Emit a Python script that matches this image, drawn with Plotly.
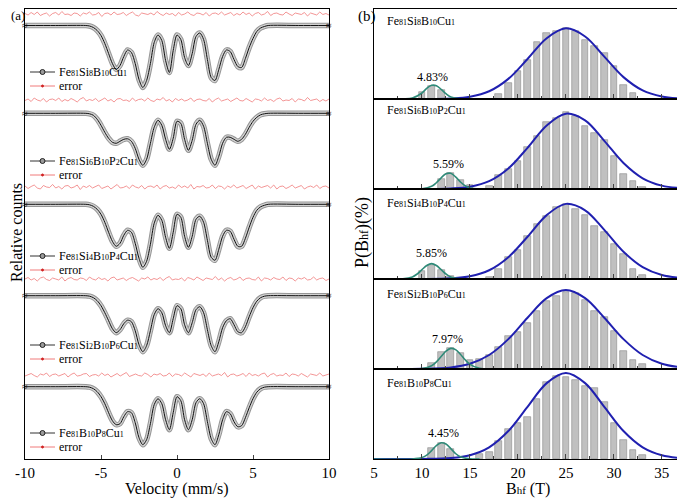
import re
import numpy as np
import plotly.graph_objects as go

# page body adds an 8px margin, so the figure is drawn 8px in from the window corner
OFF = 8
W, H = 685 - OFF, 499 - OFF
SERIF = "Liberation Serif"

# ---------------- (a) Mossbauer spectra ----------------
alloys = ["Fe81Si8B10Cu1", "Fe81Si6B10P2Cu1", "Fe81Si4B10P4Cu1", "Fe81Si2B10P6Cu1", "Fe81B10P8Cu1"]

velocity = [-10, -8, -6, -5.75, -5.5, -5.25, -5, -4.75, -4.5, -4.25, -4, -3.75, -3.5, -3.25,
            -3, -2.75, -2.5, -2.25, -2, -1.75, -1.5, -1.25, -1, -0.75, -0.5, -0.25, 0,
            0.25, 0.5, 0.75, 1, 1.25, 1.5, 1.75, 2, 2.25, 2.5, 2.75, 3, 3.25, 3.5, 3.75,
            4, 4.25, 4.5, 4.75, 5, 5.25, 5.5, 5.75, 6, 8, 10]

# absorption (drop of relative counts, arb. units)
absorb_1 = [0, 0, 0, 0.5, 2, 5, 10, 18, 28, 38, 44, 40, 31, 24.5, 27, 38, 54, 62, 55, 38, 17, 9.5,
            15, 35, 47, 25, 9.5, 14, 32, 40, 28, 11, 7.5, 14, 34, 52, 55, 44, 31, 24.5, 26, 34,
            41, 42, 33, 22, 13, 6, 2.5, 1, 0, 0, 0]
absorb_2 = [0, 0, 0, 0.5, 2, 6, 12, 19, 25, 29, 30, 28, 26, 25.5, 28, 35, 46, 52, 46, 30, 14, 7,
            12, 26, 36, 25, 8, 10, 26, 37, 27, 11, 7, 13, 30, 46, 52, 43, 30, 24, 24, 26,
            28, 26, 21, 14, 8, 4, 1.5, 0.5, 0, 0, 0]
absorb_3 = [0, 0, 0, 0.5, 2, 5, 10, 18, 28, 37, 42, 39, 31, 26, 28, 39, 54, 63, 57, 40, 19, 11,
            16, 33, 44, 28, 10, 13, 32, 43, 32, 15, 12, 18, 36, 53, 56, 45, 32, 26, 27, 35,
            42, 42, 34, 23, 13, 6, 2.5, 1, 0, 0, 0]
absorb_4 = [0, 0, 0, 0.5, 2, 5, 10, 17, 25, 33, 37, 34, 28, 24.5, 26, 35, 49, 56, 50, 35, 19, 13,
            17, 30, 37, 23, 10, 13, 29, 37, 27, 14, 11, 17, 34, 50, 56, 46, 32, 25, 23, 29,
            36, 37, 31, 21, 12, 5.5, 2, 0.5, 0, 0, 0]
absorb_5 = [0, 0, 0, 0.5, 2, 5, 10, 17, 26, 34, 38, 37, 30, 25, 26, 36, 51, 58, 53, 37, 18, 12,
            17, 33, 43, 26, 10, 14, 33, 43, 33, 16, 12, 17, 35, 52, 58, 48, 33, 25, 27, 35,
            40, 39, 31, 21, 12, 5.5, 2, 0.5, 0, 0, 0]
spectra = [absorb_1, absorb_2, absorb_3, absorb_4, absorb_5]

# fit residuals (error traces)
err_1 = [0.5, -1, 1.5, -0.5, 2, -1.5, 0, 1, -2, 0.5, 1.5, -1, 2.5, -0.5, 0, -1.5, 1, 0.5, -2, 1,
         0, 2, -1, -0.5, 1.5, -2.5, 0.5, 1, -1, 2, -0.5, 0, 1.5, -1.5, 0.5, 2, -1, -2, 1, 0.5,
         -0.5, 1, -1, 2.5, 0, -1.5, 1, -0.5, 0.5, -2, 1.5, -1, 0, 2, -0.5, -1.5, 1, 0.5, -1, 1.5,
         -2, 0.5, 1, -0.5, 2, -1, 0, 1.5, -1.5, 0.5, -1, 2, -0.5, 1, -2, 0.5, 1.5, -1, 0, 2.5,
         -1.5, 0.5, 1, -0.5, -1, 2, 0, -1.5, 1, 0.5, -0.5, 1.5, -2, 1, 0, -1, 2, -0.5, 0.5, -1]
err_2 = [-0.5, 1, -1.5, 2, 0, -1, 1.5, -2, 0.5, 1, -0.5, 2, -1.5, 0.5, -1, 1.5, 0, -2, 1, 2.5,
         -1, 0.5, -0.5, 1.5, -1.5, 0, 2, -1, 0.5, -2, 1, 1.5, -0.5, 0, -1.5, 2, -1, 0.5, 1, -1,
         2, -0.5, -1.5, 1, 0, 2.5, -1, 0.5, -2, 1.5, -0.5, 1, -1, 0, 2, -1.5, 0.5, 1, -0.5, -1,
         1.5, -2, 0.5, 2, -1, 0, 1, -1.5, 0.5, 2, -0.5, -1, 1.5, 0, -2, 1, 0.5, -1, 2, -0.5,
         0.5, -1.5, 1, 2, -1, 0, -0.5, 1.5, -2, 1, 0.5, -1, 2.5, -0.5, 0, 1, -1.5, 0.5, -1, 1]
err_3 = [1, -1.5, 0.5, 2, -1, -2, 1.5, 0, -0.5, 2.5, -1, 0.5, -2, 1, 1.5, -1, 0, 2, -2.5, 1,
         -0.5, 1.5, -1, 0.5, 2, -1.5, 0, 1, -2, 0.5, 2.5, -1, -0.5, 1, -1.5, 2, 0, -1, 1.5, -2,
         0.5, 1, -0.5, 2, -2, 0.5, 1.5, -1, 0, -1.5, 2, -0.5, 1, -1, 2.5, -2, 0.5, 0, 1.5, -1,
         -0.5, 2, -1.5, 1, 0.5, -2, 1, -0.5, 2, -1, 0, 1.5, -1.5, 0.5, 2, -2, 1, -0.5, 0.5, 1.5,
         -1, 2, -2, 0.5, 1, -1.5, 0, 2, -1, 0.5, 1.5, -2, 0, 1, -0.5, 2, -1.5, 0.5, 1, -1]
err_4 = [0, 1.5, -1, 0.5, -2, 1, 2, -0.5, -1.5, 1, 0, -1, 2, -2, 0.5, 1.5, -0.5, -1, 1, 0.5,
         -1.5, 2, 0, -1, 1.5, -0.5, 0.5, -2, 1, 2, -1, 0, 1, -1.5, 0.5, 1.5, -0.5, -2, 1, 0,
         2, -1, 0.5, -0.5, 1.5, -1.5, 1, 2.5, -1, 0, -0.5, 1, -2, 1.5, 0.5, -1, 2, 0, -1.5, 1,
         0.5, -0.5, 2.5, -1, 1, -2, 0.5, 1.5, -1, 0, 2, -1.5, 0.5, 1, -0.5, -1, 2, -2, 1, 0.5,
         -1, 1.5, 0, -0.5, 2, -1.5, 1, 0.5, -2, 1, 0, 1.5, -1, -0.5, 2, -1, 0.5, 1, -1.5, 0]
err_5 = [-1, 0.5, 1.5, -0.5, -2, 1, 0, 2, -1.5, 0.5, 1, -1, 0, 1.5, -2, 0.5, 2, -1, -0.5, 1,
         1.5, -1.5, 0, 0.5, -1, 2, -0.5, 1, -2, 0, 1.5, -1, 0.5, 2.5, -1.5, 0, 1, -0.5, -1, 2,
         0.5, -2, 1, 0, 1.5, -1, -0.5, 2, -1.5, 1, 0.5, -1, 2, 0, -2, 1.5, 0.5, -0.5, 1, -1.5,
         2, -1, 0, 1, -0.5, 2.5, -2, 0.5, 1, -1, 0, 1.5, -1.5, 2, -0.5, 0.5, -1, 1, 2, -2,
         0.5, 1.5, -1, 0, -0.5, 2, -1.5, 1, 0.5, -1, 1.5, 0, -2, 1, 0.5, -0.5, 2, -1, 0, 1]
errors = [err_1, err_2, err_3, err_4, err_5]

# ---------------- (b) hyperfine field distributions ----------------
bhf_1 = [10, 11, 12, 18, 19, 20, 21, 22, 23, 24, 25, 26, 27, 28, 29, 30, 31, 32]
pb_1 = [1.05, 2.0, 1.35, 0.7, 2.4, 4.25, 5.9, 8.6, 9.85, 10.25, 10.6, 10.15, 8.9, 8.0, 6.9, 4.9, 2.15, 0.9]
bhf_2 = [12, 13, 14, 15, 17, 18, 19, 20, 21, 22, 23, 24, 25, 26, 27, 28, 29, 30, 31, 32, 33]
pb_2 = [1.5, 2.4, 1.35, 0.65, 0.5, 2.15, 3.0, 4.25, 6.35, 8.0, 10.0, 10.65, 11.5, 11.0, 9.5, 8.35,
        7.35, 5.0, 2.25, 1.15, 0.35]
bhf_3 = [10, 11, 12, 13, 17, 18, 19, 20, 21, 22, 23, 24, 25, 26, 27, 28, 29, 30, 31, 32, 33]
pb_3 = [1.15, 2.05, 1.3, 0.4, 0.25, 1.5, 3.3, 4.4, 6.4, 8.25, 9.5, 10.8, 11.3, 10.55, 9.65, 8.0,
        7.0, 5.3, 3.8, 1.5, 0.55]
bhf_4 = [11, 12, 13, 14, 15, 16, 17, 18, 19, 20, 21, 22, 23, 24, 25, 26, 27, 28, 29, 30, 31, 32, 33]
pb_4 = [0.85, 2.6, 3.1, 2.35, 1.35, 1.5, 2.1, 3.35, 5.0, 5.6, 6.85, 8.7, 10.2, 11.0, 11.5, 11.35,
        10.35, 8.7, 7.85, 5.7, 2.75, 1.35, 0.7]
bhf_5 = [11, 12, 13, 16, 17, 18, 19, 20, 21, 22, 23, 24, 25, 26, 27, 28, 29, 30, 31, 32, 33]
pb_5 = [1.6, 2.35, 1.45, 0.75, 1.1, 2.7, 4.45, 5.45, 6.25, 8.95, 11.6, 12.45, 12.35, 11.85, 11.0,
        10.6, 8.6, 5.45, 2.85, 1.35, 0.6]

# main (blue) fitted component
fit_b = [5, 10, 13, 15, 17, 19, 21, 23, 25, 27, 29, 31, 33, 35, 37.1]
main_1 = [0, 0, 0.08, 0.34, 1.16, 3.02, 6.0, 9.12, 10.6, 9.38, 6.35, 3.28, 1.29, 0.39, 0.07]
main_2 = [0, 0, 0.08, 0.35, 1.18, 3.08, 6.18, 9.54, 11.3, 10.3, 7.23, 3.9, 1.61, 0.51, 0.12]
main_3 = [0, 0, 0.1, 0.41, 1.31, 3.27, 6.34, 9.58, 11.27, 10.3, 7.37, 4.09, 1.78, 0.6, 0.15]
main_4 = [0, 0.02, 0.24, 0.79, 2.1, 4.48, 7.69, 10.64, 11.85, 10.64, 7.69, 4.48, 2.1, 0.79, 0.23]
main_5 = [0, 0.01, 0.14, 0.57, 1.75, 4.19, 7.82, 11.38, 12.9, 11.38, 7.82, 4.19, 1.75, 0.57, 0.13]

# minor (green) fitted component
minor_x_1 = [5, 8, 9, 10, 10.5, 11, 11.5, 12, 12.5, 13, 14, 15]
minor_1 = [0, 0, 0.13, 0.9, 1.6, 2.05, 2.0, 1.45, 0.8, 0.32, 0.02, 0]
minor_x_2 = [5, 9, 10, 11, 11.5, 12, 12.5, 13, 13.5, 14, 14.5, 15, 16, 17]
minor_2 = [0, 0, 0.03, 0.4, 0.94, 1.68, 2.28, 2.35, 1.82, 1.08, 0.48, 0.16, 0, 0]
minor_x_3 = [5, 8, 9, 9.5, 10, 10.5, 11, 11.5, 12, 12.5, 13, 14, 15]
minor_3 = [0, 0.03, 0.31, 0.75, 1.4, 2.02, 2.3, 2.02, 1.4, 0.75, 0.31, 0.03, 0]
minor_x_4 = [5, 9, 10, 11, 11.5, 12, 12.5, 13, 13.5, 14, 14.5, 15, 16, 17]
minor_4 = [0, 0, 0.06, 0.5, 1.07, 1.88, 2.67, 3.09, 2.9, 2.22, 1.38, 0.7, 0.1, 0]
minor_x_5 = [5, 9, 10, 10.5, 11, 11.5, 12, 12.5, 13, 13.5, 14, 15, 16]
minor_5 = [0, 0.01, 0.21, 0.59, 1.25, 2.0, 2.44, 2.24, 1.56, 0.82, 0.33, 0.02, 0]

fractions = ["4.83%", "5.59%", "5.85%", "7.97%", "4.45%"]
frac_pos = [(11.1, 3.3), (12.8, 3.75), (11.0, 3.9), (12.7, 4.45), (12.2, 3.85)]

bars = [(bhf_1, pb_1), (bhf_2, pb_2), (bhf_3, pb_3), (bhf_4, pb_4), (bhf_5, pb_5)]
mains = [main_1, main_2, main_3, main_4, main_5]
minors = [(minor_x_1, minor_1), (minor_x_2, minor_2), (minor_x_3, minor_3),
          (minor_x_4, minor_4), (minor_x_5, minor_5)]

# ---------------- layout helpers (window pixel -> paper) ----------------
def fx(p):
    return (p - OFF) / W


def fy(p):
    return 1 - (p - OFF) / H


def chem(name, size=8):
    return re.sub(r"(\d+)", lambda m: f"<span style='font-size:{size}px'>{m.group(1)}</span>", name)


Y_TOP, Y_BOT = 9, 459
base_px = [25.5, 113.3, 204.3, 295.7, 386.7]     # spectrum baselines (px from top)
err_px = [14, 100, 187, 279, 375]                # residual traces
leg_px = [72, 161, 256, 345, 433]
tops = [9, 99, 189, 279, 369]                    # right panel boxes
bots = [99, 189, 279, 369, 459]
name_px = [21, 110, 203, 294, 383]

fig = go.Figure()

vel_err = [np.linspace(-10, 10, len(e)) for e in errors]
for i in range(5):
    base = Y_BOT - base_px[i]
    yy = [base - a for a in spectra[i]]
    for w, c in [(5.5, "#969696"), (3.5, "#d2d2d2"), (1.0, "#111111")]:
        fig.add_trace(go.Scatter(x=velocity, y=yy, mode="lines",
                                 line=dict(color=c, width=w, shape="spline", smoothing=0.8),
                                 xaxis="x", yaxis="y", showlegend=False, hoverinfo="skip"))
    ec = Y_BOT - err_px[i]
    fig.add_trace(go.Scatter(x=vel_err[i], y=[ec + e for e in errors[i]], mode="lines",
                             line=dict(color="#f07a7a", width=0.8), xaxis="x", yaxis="y",
                             showlegend=False, hoverinfo="skip"))

for k in range(5):
    ax = str(k + 2)
    bx, by = bars[k]
    fig.add_trace(go.Bar(x=bx, y=by, width=0.7,
                         marker=dict(color="#c0c0c0", line=dict(color="#8a8a8a", width=0.6)),
                         xaxis="x" + ax, yaxis="y" + ax, showlegend=False))
    fig.add_trace(go.Scatter(x=fit_b, y=mains[k], mode="lines", line=dict(color="#2020b0", width=2, shape="spline"),
                             xaxis="x" + ax, yaxis="y" + ax, showlegend=False))
    gx, gy = minors[k]
    fig.add_trace(go.Scatter(x=gx, y=gy, mode="lines", line=dict(color="#2f8a78", width=1.6, shape="spline"),
                             xaxis="x" + ax, yaxis="y" + ax, showlegend=False))

axis_common = dict(showline=True, linecolor="black", linewidth=1, mirror=True, showgrid=False,
                   zeroline=False, automargin=False)

layout = dict(
    width=W, height=H, margin=dict(l=0, r=0, t=0, b=0),
    paper_bgcolor="white", plot_bgcolor="white", bargap=0,
    font=dict(family=SERIF, size=14, color="black"),
    xaxis=dict(domain=[fx(25), fx(329)], range=[-10, 10], tickvals=[-10, -5, 0, 5, 10],
               ticktext=["-10", "-5", "0", "5", "10"], ticks="inside", ticklen=4,
               tickfont=dict(family=SERIF, size=15), anchor="y", **axis_common),
    yaxis=dict(domain=[fy(Y_BOT), fy(Y_TOP)], range=[0, Y_BOT - Y_TOP], showticklabels=False,
               ticks="", anchor="x", **axis_common),
)
for k in range(5):
    ax = str(k + 2)
    layout["xaxis" + ax] = dict(domain=[fx(374), fx(682)], range=[5, 37.1], tick0=5, dtick=5,
                                ticks="inside", ticklen=5, showticklabels=(k == 4),
                                minor=dict(ticks="inside", ticklen=3, dtick=2.5, tick0=5),
                                tickfont=dict(family=SERIF, size=15), anchor="y" + ax, **axis_common)
    layout["yaxis" + ax] = dict(domain=[fy(bots[k]), fy(tops[k])], range=[0, (bots[k] - tops[k]) * 0.15],
                                showticklabels=False, ticks="", anchor="x" + ax, **axis_common)

ann = []
shapes = []
for i in range(5):
    ly = leg_px[i]
    ey = ly + 14
    shapes.append(dict(type="line", xref="paper", yref="paper", x0=fx(30), x1=fx(55), y0=fy(ly), y1=fy(ly),
                       line=dict(color="#333333", width=1)))
    shapes.append(dict(type="circle", xref="paper", yref="paper", x0=fx(40), x1=fx(45), y0=fy(ly + 2.5),
                       y1=fy(ly - 2.5), line=dict(color="#222222", width=1), fillcolor="#9a9a9a"))
    shapes.append(dict(type="line", xref="paper", yref="paper", x0=fx(30), x1=fx(55), y0=fy(ey), y1=fy(ey),
                       line=dict(color="#f07a7a", width=1)))
    shapes.append(dict(type="circle", xref="paper", yref="paper", x0=fx(41.5), x1=fx(43.5), y0=fy(ey + 1),
                       y1=fy(ey - 1), line=dict(color="#d02020", width=1), fillcolor="#d02020"))
    ann.append(dict(text=chem(alloys[i]), xref="paper", yref="paper", x=fx(57), y=fy(ly), xanchor="left",
                    yanchor="middle", showarrow=False, font=dict(family=SERIF, size=12, color="black")))
    ann.append(dict(text="error", xref="paper", yref="paper", x=fx(57), y=fy(ey), xanchor="left",
                    yanchor="middle", showarrow=False, font=dict(family=SERIF, size=12, color="black")))
    for xb in (25, 329):
        ann.append(dict(text="≈", xref="paper", yref="paper", x=fx(xb), y=fy(base_px[i]), xanchor="center",
                        yanchor="middle", showarrow=False, font=dict(family=SERIF, size=10, color="black")))
    ax = str(i + 2)
    ann.append(dict(text=chem(alloys[i]), xref="x" + ax, yref="paper", x=6.1, y=fy(name_px[i]), xanchor="left",
                    yanchor="middle", showarrow=False, font=dict(family=SERIF, size=12, color="black")))
    fxv, fyv = frac_pos[i]
    ann.append(dict(text=fractions[i], xref="x" + ax, yref="y" + ax, x=fxv, y=fyv, xanchor="center",
                    yanchor="middle", showarrow=False, font=dict(family=SERIF, size=12, color="black")))

ann += [
    dict(text="(a)", xref="paper", yref="paper", x=fx(8.5), y=fy(15), xanchor="left", yanchor="middle",
         showarrow=False, font=dict(family=SERIF, size=13)),
    dict(text="(b)", xref="paper", yref="paper", x=fx(356), y=fy(16), xanchor="left", yanchor="middle",
         showarrow=False, font=dict(family=SERIF, size=15)),
    dict(text="Relative counts", xref="paper", yref="paper", x=fx(16), y=fy(233), textangle=-90,
         xanchor="center", yanchor="middle", showarrow=False, font=dict(family=SERIF, size=16)),
    dict(text="P(B<span style='font-size:12px'>hf</span>)(%)", xref="paper", yref="paper", x=fx(362),
         y=fy(233), textangle=-90, xanchor="center", yanchor="middle", showarrow=False,
         font=dict(family=SERIF, size=18)),
    dict(text="Velocity (mm/s)", xref="paper", yref="paper", x=fx(177), y=fy(489), xanchor="center",
         yanchor="middle", showarrow=False, font=dict(family=SERIF, size=16)),
    dict(text="B<span style='font-size:11px'>hf</span> (T)", xref="paper", yref="paper", x=fx(528), y=fy(489),
         xanchor="center", yanchor="middle", showarrow=False, font=dict(family=SERIF, size=16)),
]
layout["annotations"] = ann
layout["shapes"] = shapes

fig.update_layout(**layout)
fig.write_html("out.html")
